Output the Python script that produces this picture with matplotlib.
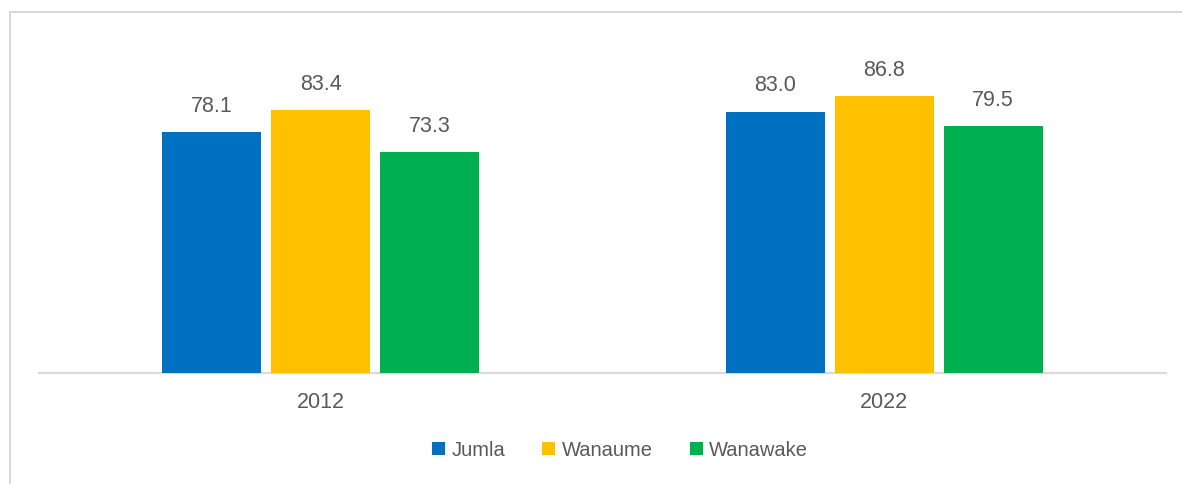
import numpy as np
import matplotlib.pyplot as plt
from matplotlib.lines import Line2D

years = ['2012', '2022']
series = ['Jumla', 'Wanaume', 'Wanawake']
jumla = [78.1, 83.0]
wanaume = [83.4, 86.8]
wanawake = [73.3, 79.5]
colors = ['#0070C0', '#FFC000', '#00B050']

plt.rcParams['font.family'] = ['Liberation Sans', 'DejaVu Sans']
text_color = '#595959'

fig = plt.figure(figsize=(11.82, 4.84), dpi=100)
ax = fig.add_axes([39 / 1182, 1 - 373 / 484, (1166 - 39) / 1182, (373 - 39) / 484])

x = np.arange(len(years))
width = 0.1757
step = 0.1934
for i, (name, vals) in enumerate(zip(series, [jumla, wanaume, wanawake])):
    pos = x + (i - 1) * step
    bars = ax.bar(pos, vals, width, color=colors[i], label=name, zorder=3)
    for b, v in zip(bars, vals):
        ax.annotate(f'{v:.1f}', (b.get_x() + b.get_width() / 2, v),
                    xytext=(0, 11), textcoords='offset points',
                    ha='center', va='bottom', fontsize=15.5, color=text_color)

ax.set_xlim(-0.5, 1.5)
ax.set_ylim(20, 100.5)
ax.set_yticks([])
ax.set_xticks(x)
ax.set_xticklabels(years, fontsize=15.5, color=text_color)
ax.tick_params(axis='x', length=0, pad=14)
for s in ['top', 'right', 'left']:
    ax.spines[s].set_visible(False)
ax.spines['bottom'].set_color('#d9d9d9')
ax.spines['bottom'].set_linewidth(1.5)

leg = fig.legend(loc='center', bbox_to_anchor=(620 / 1182, 1 - 450 / 484), ncol=3,
                 frameon=False, fontsize=14.5, handlelength=0.65, handleheight=0.65,
                 handletextpad=0.3, columnspacing=1.85, labelcolor=text_color)

# outer chart frame (cropped at right and bottom)
fig.add_artist(Line2D([10 / 1182, 1], [1 - 12 / 484, 1 - 12 / 484], color='#d9d9d9', lw=1.5))
fig.add_artist(Line2D([10 / 1182, 10 / 1182], [0, 1 - 12 / 484], color='#d9d9d9', lw=1.5))

fig.savefig('out.png', dpi=100)
